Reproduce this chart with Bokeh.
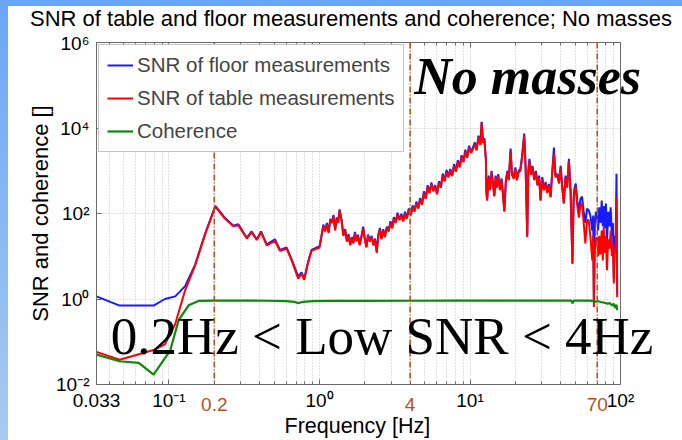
from bokeh.plotting import figure
from bokeh.layouts import column, row
from bokeh.models import (Span, Label, FixedTicker, LogAxis, BoxAnnotation, Title,
                          Legend, LegendItem, Range1d, Div)
from bokeh.embed import file_html
from bokeh.resources import INLINE

# ---- measured spectra: frequency [Hz] and SNR of floor / table sensors ----
freq_low = [0.033, 0.047, 0.079, 0.094, 0.110, 0.128, 0.149, 0.174, 0.203, 0.236,
            0.268, 0.289, 0.329, 0.354, 0.383, 0.409, 0.446, 0.506, 0.546, 0.605,
            0.653, 0.722, 0.760, 0.792, 0.84, 0.885, 0.955]
table_low = [0.058, 0.038, 0.064, 0.087, 0.26, 1.6, 6.0, 33, 145, 75,
             50, 53, 26, 36, 24, 36, 18, 23, 13.5, 15,
             8, 3.0, 3.9, 2.8, 7, 13.5, 15]
floor_low = [1.15, 0.70, 0.70, 1.0, 1.15, 2.0, 6.3, 34, 150, 78,
             52, 56, 27, 38, 25, 38, 19, 25, 14, 16,
             8.5, 3.4, 4.2, 3.0, 7.4, 14, 16]

freq_mid = [1.00, 1.03, 1.06, 1.09, 1.12, 1.15, 1.18, 1.21, 1.24, 1.27,
            1.30, 1.33, 1.36, 1.40, 1.44, 1.48, 1.52, 1.56, 1.60, 1.64,
            1.68, 1.72, 1.76, 1.80, 1.85, 1.90, 1.95, 2.00, 2.05, 2.10,
            2.16, 2.22, 2.28, 2.34, 2.40, 2.46, 2.52, 2.58, 2.65, 2.72,
            2.80, 2.88, 2.96, 3.04, 3.12, 3.21, 3.30, 3.40, 3.50, 3.60,
            3.70, 3.80, 3.92, 4.04, 4.16, 4.28, 4.40, 4.53, 4.66, 4.80,
            4.94, 5.08, 5.23, 5.38, 5.54, 5.70, 5.87, 6.04, 6.22, 6.40,
            6.59, 6.78, 6.98, 7.18, 7.39, 7.61, 7.83, 8.06, 8.30, 8.54,
            8.79, 9.05, 9.31, 9.58, 9.86, 10.15, 10.45, 10.75, 11.06, 11.38,
            11.72, 11.95, 12.2, 12.45, 12.6, 12.75, 12.85]
table_mid = [16, 28, 50, 38, 55, 35, 70, 60, 85, 40,
             75, 60, 115, 70, 30, 40, 22, 30, 18, 26,
             20, 34, 22, 30, 18, 28, 45, 25, 16, 30,
             22, 28, 18, 24, 12, 30, 42, 25, 40, 28,
             45, 38, 60, 45, 75, 60, 95, 70, 90, 65,
             100, 75, 120, 90, 140, 110, 175, 130, 210, 160,
             300, 220, 420, 300, 480, 330, 420, 280, 520, 400,
             780, 560, 950, 700, 1000, 750, 1300, 950, 1600, 1200,
             2100, 1600, 2800, 2000, 3500, 2600, 3200, 4200, 3000, 6000,
             4000, 13500, 4500, 5500, 3000, 1800, 300]
floor_mid = [17, 30, 55, 40, 60, 37, 75, 62, 92, 42,
             80, 63, 125, 74, 32, 43, 24, 33, 19, 28,
             21, 37, 23, 32, 19, 30, 49, 26, 17, 32,
             23, 30, 19, 26, 13, 32, 46, 26, 43, 29,
             49, 40, 66, 47, 82, 63, 104, 73, 98, 68,
             110, 78, 132, 94, 155, 115, 190, 135, 230, 166,
             330, 230, 460, 310, 530, 345, 460, 290, 570, 415,
             860, 580, 1050, 730, 1100, 780, 1430, 990, 1760, 1250,
             2300, 1660, 3100, 2080, 3850, 2700, 3500, 4600, 3100, 6600,
             4150, 14000, 4700, 5800, 3100, 1900, 320]

freq_high = [13.0, 13.3, 13.6, 13.9, 14.2, 14.5, 14.8, 15.1, 15.4, 15.8,
             16.2, 16.6, 16.9, 17.3, 17.7, 18.1, 18.6, 19.0, 19.5, 20.0,
             20.5, 21.0, 21.6, 22.2, 22.9, 23.4, 24.0, 24.4, 24.8, 25.4,
             26.0, 26.7, 27.4, 28.1, 28.8, 29.4, 30.2, 31.0, 31.8, 32.6,
             33.4, 34.3, 35.2, 36.1, 37.0, 38.0, 39.0, 40.0, 41.0, 42.0,
             43.1, 44.2, 45.4, 46.6, 47.9, 48.8, 49.5, 50.4, 51.6, 52.9,
             54.2, 55.5, 56.9, 58.4, 59.9, 61.4, 63.0, 64.9, 65.8, 66.5,
             67.5, 68.6, 69.8, 71.0, 72.2, 73.5, 75.0, 76.2, 77.3, 78.6,
             80.0, 81.3, 82.8, 84.4, 86.0, 87.6, 89.0, 90.2, 91.5, 92.8,
             94.0, 95.0]
table_high = [200, 700, 350, 900, 500, 250, 700, 400, 750, 350,
              600, 250, 110, 550, 900, 600, 2900, 800, 650, 1100,
              600, 900, 1000, 2000, 6600, 1200, 28, 900, 1700, 800,
              1200, 600, 900, 450, 700, 200, 650, 350, 500, 300,
              450, 240, 900, 2500, 700, 800, 500, 1200, 400, 170,
              700, 400, 1700, 300, 6.6, 200, 350, 420, 150, 80,
              160, 170, 60, 20, 70, 70, 30, 8, 30, 0.65,
              15, 25, 28, 10, 30, 11, 40, 8, 48, 12,
              30, 4.7, 25, 15, 40, 10, 20, 2.3, 15, 12,
              240, 1.1]
floor_high = [220, 770, 370, 990, 520, 260, 770, 420, 830, 370,
              660, 260, 115, 600, 990, 630, 3300, 850, 690, 1200,
              630, 990, 1100, 2300, 7400, 1300, 30, 990, 1900, 850,
              1300, 630, 990, 470, 770, 210, 710, 370, 550, 320,
              490, 250, 990, 3500, 740, 850, 530, 1300, 420, 180,
              770, 420, 1900, 320, 7.0, 250, 400, 500, 200, 120,
              220, 250, 110, 60, 130, 120, 90, 40, 90, 1.0,
              60, 110, 80, 40, 140, 60, 200, 50, 150, 45,
              170, 20, 110, 50, 140, 30, 60, 3.0, 30, 25,
              850, 1.3]

# coherence between the two sensors
coh_freq = [0.033, 0.047, 0.063, 0.079, 0.102, 0.116, 0.135, 0.157, 0.20, 0.30,
            0.45, 0.60, 0.68, 0.72, 0.78, 0.90, 1.2, 2.0, 4.0, 8.0,
            15, 25, 40, 47, 48, 49, 60, 66, 68, 70,
            74, 78, 82, 85, 88, 90, 92, 94, 95]
coherence = [0.050, 0.035, 0.032, 0.017, 0.063, 0.32, 0.71, 0.90, 0.92, 0.92,
             0.91, 0.89, 0.86, 0.80, 0.86, 0.89, 0.90, 0.90, 0.91, 0.92,
             0.92, 0.92, 0.92, 0.92, 0.80, 0.92, 0.92, 0.90, 0.85, 0.90,
             0.85, 0.82, 0.78, 0.80, 0.70, 0.78, 0.62, 0.74, 0.55]

# band limits marked on the frequency axis
band_marks = [0.2, 4, 70]
band_labels = ["0.2", "4", "70"]

x_ticks = [0.033, 0.1, 1, 10, 100]
x_tick_labels = ["0.033", "10\u207b\u00b9", "10\u2070", "10\u00b9", "10\u00b2"]
y_ticks = [0.01, 1, 100, 10000, 1000000]
y_tick_labels = ["10\u207b\u00b2", "10\u2070", "10\u00b2", "10\u2074", "10\u2076"]

TITLE = "SNR of table and floor measurements and coherence; No masses"

X_MIN, X_MAX = 0.033, 100      # extent of the boxed axes
Y_MIN, Y_MAX = 1e-2, 1e6

freq = freq_low + freq_mid + freq_high
snr_table = table_low + table_mid + table_high
snr_floor = floor_low + floor_mid + floor_high

SANS = "Liberation Sans"
SERIF = "Liberation Serif"
MARK = "#b5521e"
GRID = "#c4c4c4"
FRAME = "#6a6a6a"

# the frame runs on to the right page edge so the large captions are not cut;
# the boxed axes stop at 100 Hz
p = figure(width=674, height=408, x_axis_type="log", y_axis_type="log",
           x_range=Range1d(X_MIN, 258), y_range=Range1d(Y_MIN, Y_MAX),
           output_backend="svg", toolbar_location=None,
           min_border_left=88, min_border_right=0,
           min_border_top=10, min_border_bottom=56,
           background_fill_color="white", border_fill_color="white", margin=0)
p.title.visible = False

minor_x = [m * 10.0 ** e for e in (-2, -1, 0, 1) for m in range(2, 10)]
minor_x = [m for m in minor_x if X_MIN < m < X_MAX]
xt = FixedTicker(ticks=x_ticks, minor_ticks=minor_x)
yt = FixedTicker(ticks=y_ticks, minor_ticks=[])

for ax, tk, labels in ((p.xaxis[0], xt, x_tick_labels), (p.yaxis[0], yt, y_tick_labels)):
    ax.ticker = tk
    ax.major_label_overrides = {t: s for t, s in zip(tk.ticks, labels)}
    ax.major_label_text_font = SANS
    ax.major_label_text_font_size = "19px"
    ax.major_label_text_color = "black"
    ax.axis_label_text_font = SANS
    ax.axis_label_text_font_style = "normal"
    ax.axis_label_text_color = "black"
    ax.axis_line_color = FRAME
    ax.major_tick_line_color = FRAME
    ax.minor_tick_line_color = FRAME
    ax.major_tick_in = 5
    ax.major_tick_out = 0
    ax.minor_tick_in = 3
    ax.minor_tick_out = 0

p.xaxis.bounds = (X_MIN, X_MAX)
p.xaxis.major_label_standoff = 5
p.yaxis.axis_label = "SNR and coherence []"
p.yaxis.axis_label_text_font_size = "22px"
p.yaxis.major_label_standoff = 7
p.yaxis.axis_label_standoff = 0

# second row under the axis: the band limits in their own colour, pulled up
# onto the same line as the decade labels
band_axis = LogAxis(ticker=FixedTicker(ticks=band_marks, minor_ticks=[]),
                    bounds=(X_MIN, X_MAX),
                    major_label_overrides={t: s for t, s in zip(band_marks, band_labels)},
                    major_label_text_font=SANS, major_label_text_font_size="19px",
                    major_label_text_color=MARK, major_label_standoff=-22,
                    axis_line_color=None, major_tick_line_color=None,
                    minor_tick_line_color=None)
p.add_layout(band_axis, "below")

# axis title, centred under the boxed part of the axis
p.add_layout(Title(text="Frequency [Hz]", align="left", offset=188,
                   text_font=SANS, text_font_size="21.5px", text_font_style="normal",
                   text_color="black", standoff=0, vertical_align="top"), "below")

# tick marks along the top edge of the box
top_axis = LogAxis(ticker=xt, bounds=(X_MIN, X_MAX),
                   major_label_overrides={t: "" for t in x_ticks},
                   major_tick_in=5, major_tick_out=0, minor_tick_in=3, minor_tick_out=0,
                   axis_line_color=FRAME, major_tick_line_color=FRAME,
                   minor_tick_line_color=FRAME, major_label_standoff=0)
p.add_layout(top_axis, "above")

p.outline_line_color = None
p.xgrid.grid_line_color = GRID
p.xgrid.grid_line_dash = "1 2"
p.xgrid.minor_grid_line_color = GRID
p.xgrid.minor_grid_line_dash = "1 2"
p.ygrid.grid_line_color = GRID
p.ygrid.grid_line_dash = "1 2"

# blank out the grid beyond the right edge of the box
p.add_layout(BoxAnnotation(left=X_MAX, fill_color="white", fill_alpha=1.0,
                           line_color=None, level="underlay"))

r_floor = p.line(freq, snr_floor, line_color="#1a1aff", line_width=2.0)
r_table = p.line(freq, snr_table, line_color="#ff0000", line_width=2.0)
r_coh = p.line(coh_freq, coherence, line_color="#0b8a0b", line_width=2.2)

# right edge of the box
p.add_layout(Span(location=X_MAX, dimension="height", line_color=FRAME, line_width=1))

for f in band_marks:
    p.add_layout(Span(location=f, dimension="height", line_color=MARK,
                      line_dash="6 2 1 2", line_width=1.6))

legend = Legend(items=[LegendItem(label="SNR of floor measurements", renderers=[r_floor]),
                       LegendItem(label="SNR of table measurements", renderers=[r_table]),
                       LegendItem(label="Coherence", renderers=[r_coh])],
                location="top_left")
legend.margin = 2
legend.padding = 8
legend.spacing = 9
legend.glyph_width = 26
legend.glyph_height = 24
legend.label_height = 24
legend.label_standoff = 4
legend.label_text_font = SANS
legend.label_text_font_size = "20.5px"
legend.border_line_color = "#8a8a8a"
legend.background_fill_alpha = 1.0
p.add_layout(legend)

p.add_layout(Label(x=4.26, y=160000, text="No masses", text_font=SERIF,
                   text_font_style="bold italic", text_font_size="52px",
                   text_baseline="alphabetic", text_color="black"))
p.add_layout(Label(x=0.041, y=0.14, text="0.2Hz < Low SNR < 4Hz", text_font=SERIF,
                   text_font_size="53px", text_baseline="alphabetic",
                   text_color="black"))

# header strip: blue band across the top, start of the blue left edge, and the title
header = Div(text=TITLE, width=682, height=32, margin=0,
             styles={
                 "background": ("linear-gradient(#6aa6f7, #6aa6f7) 0 0 / 100% 6px no-repeat, "
                                "linear-gradient(to bottom, #6aa6f7, #6ea9f6) 0 0 / 8px 100% no-repeat, "
                                "#ffffff"),
                 "font-family": SANS,
                 "font-size": "22px",
                 "line-height": "22px",
                 "color": "black",
                 "white-space": "nowrap",
                 "box-sizing": "border-box",
                 "padding-top": "8px",
                 "padding-left": "30px",
             })
left_band = Div(text="", width=8, height=408, margin=0,
                styles={"background": "linear-gradient(to bottom, #6ea9f6, #a8caf0)"})
page = column(header, row(left_band, p, spacing=0, margin=0), spacing=0, margin=0)

open("out.html", "w").write(file_html(page, INLINE))
